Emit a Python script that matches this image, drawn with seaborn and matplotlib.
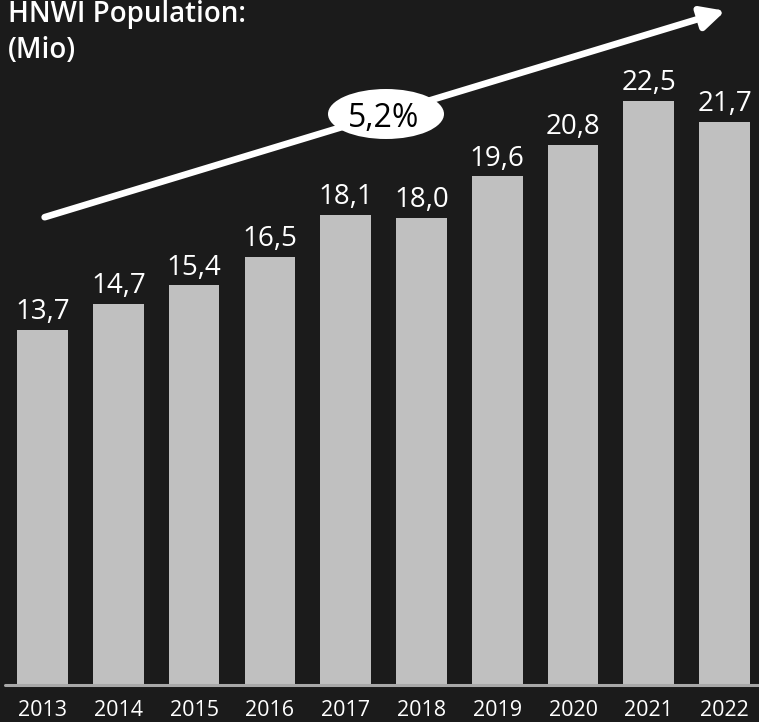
import matplotlib
matplotlib.use("Agg")
import matplotlib.pyplot as plt
import seaborn as sns
import pandas as pd
from matplotlib.patches import Ellipse, FancyArrowPatch

years = ["2013", "2014", "2015", "2016", "2017", "2018", "2019", "2020", "2021", "2022"]
values = [13.7, 14.7, 15.4, 16.5, 18.1, 18.0, 19.6, 20.8, 22.5, 21.7]
labels = ["13,7", "14,7", "15,4", "16,5", "18,1", "18,0", "19,6", "20,8", "22,5", "21,7"]
title_lines = ["HNWI Population:", "(Mio)"]
cagr_label = "5,2%"

sns.set_theme(style="white")
plt.rcParams["font.family"] = ["Open Sans", "DejaVu Sans"]

BG = "#1b1b1b"
BAR = "#c0c0c0"

fig = plt.figure(figsize=(7.59, 7.22), dpi=100, facecolor=BG)
ax = fig.add_axes([0, 0, 1, 1])
ax.set_facecolor(BG)

df = pd.DataFrame({"year": years, "value": values})
sns.barplot(data=df, x="year", y="value", color=BAR, saturation=1,
            width=0.67, ax=ax, edgecolor="none")

ax.set_xlim(-0.561, 9.453)
ax.set_ylim(-1.426, 26.40)
ax.axis("off")

# baseline
ax.axhline(0, xmin=5 / 759, xmax=1, color="#a8a8a8", lw=2.2, zorder=3)

# value labels
for i, (v, lab) in enumerate(zip(values, labels)):
    ax.text(i, v + 0.42, lab, ha="center", va="baseline", color="white",
            fontsize=20, zorder=4)

# year labels
for i, y in enumerate(years):
    ax.text(i, -1.39, y, ha="center", va="bottom", color="white", fontsize=15.5)

# title
fig.text(8 / 759, 1 - 22 / 722, title_lines[0], ha="left", va="baseline",
         color="white", fontsize=20, fontweight="semibold")
fig.text(8 / 759, 1 - 58 / 722, title_lines[1], ha="left", va="baseline",
         color="white", fontsize=20, fontweight="semibold")

# growth arrow
arrow = FancyArrowPatch((42 / 759, 1 - 218 / 722), (728 / 759, 1 - 10 / 722),
                        transform=fig.transFigure, arrowstyle="-|>,head_length=14,head_width=7",
                        mutation_scale=1, lw=4.8, color="white", zorder=5)
fig.add_artist(arrow)

ell = Ellipse((386 / 759, 1 - 114 / 722), 116 / 759, 50 / 722,
              transform=fig.transFigure, facecolor="white", edgecolor="none", zorder=6)
fig.add_artist(ell)
fig.text(384 / 759, 1 - 127 / 722, cagr_label, ha="center", va="baseline",
         color="black", fontsize=23, zorder=7)

fig.savefig("out.png", dpi=100, facecolor=BG)
